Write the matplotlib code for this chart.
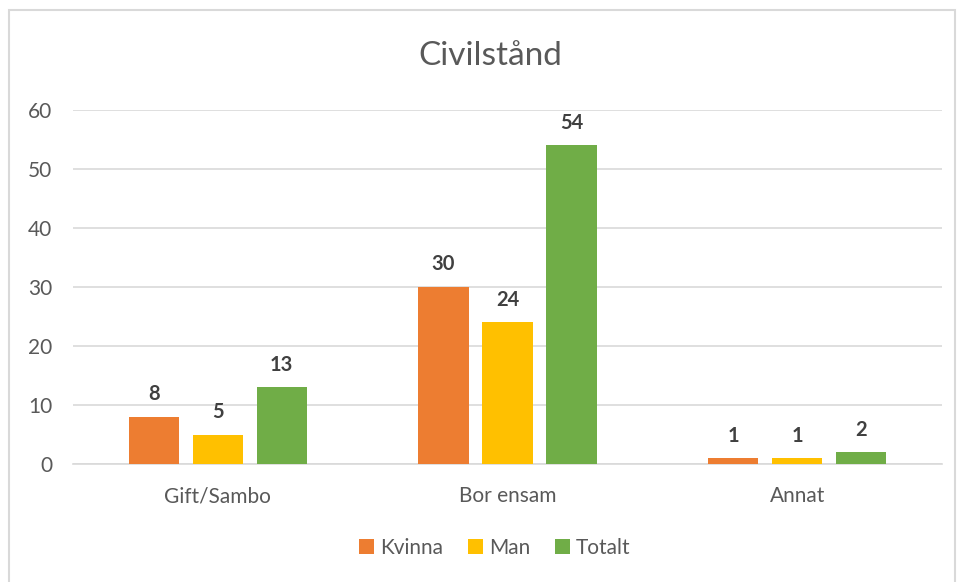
import numpy as np
import matplotlib.pyplot as plt
from matplotlib.patches import Rectangle

plt.rcParams['font.family'] = ['Lato', 'DejaVu Sans']

# Data
categories = ['Gift/Sambo', 'Bor ensam', 'Annat']
series_names = ['Kvinna', 'Man', 'Totalt']
kvinna = [8, 30, 1]
man = [5, 24, 1]
totalt = [13, 54, 2]
colors = ['#ED7D31', '#FFC000', '#70AD47']

fig = plt.figure(figsize=(9.6, 5.82), dpi=100)
ax = fig.add_axes([73 / 960, 1 - 464 / 582, 869 / 960, 354 / 582])

# chart border like Excel
fig.patches.append(Rectangle((9 / 960, -0.01), 946 / 960, 1 - 10 / 582 + 0.01,
                             transform=fig.transFigure, fill=False,
                             edgecolor='#D9D9D9', linewidth=1.5))

x = np.arange(len(categories))
width = 0.173
step = 0.221
for i, (vals, name, col) in enumerate(zip([kvinna, man, totalt], series_names, colors)):
    bars = ax.bar(x + (i - 1) * step, vals, width, color=col, label=name, zorder=3)
    for b, v in zip(bars, vals):
        ax.annotate(str(v), (b.get_x() + b.get_width() / 2, v),
                    xytext=(0, 9), textcoords='offset points',
                    ha='center', va='bottom', fontsize=14.5, fontweight='bold',
                    color='#404040')

ax.set_xlim(-0.5, 2.5)
ax.set_ylim(0, 60)
ax.set_yticks(range(0, 61, 10))
ax.set_xticks(x)
ax.set_xticklabels(categories)
ax.tick_params(axis='both', length=0, labelsize=15, labelcolor='#595959')
ax.tick_params(axis='x', pad=16)
ax.tick_params(axis='y', pad=15)
ax.grid(axis='y', color='#D9D9D9', linewidth=1.2, zorder=0)
for s in ['top', 'right', 'left']:
    ax.spines[s].set_visible(False)
ax.spines['bottom'].set_color('#D9D9D9')
ax.spines['bottom'].set_linewidth(1.2)

fig.text(490 / 960, 1 - 56 / 582, 'Civilstånd', ha='center', va='center',
         fontsize=24, color='#595959')

fig.legend(loc='center', bbox_to_anchor=(495 / 960, 1 - 548 / 582), ncol=3,
           frameon=False, fontsize=15, labelcolor='#595959',
           handlelength=0.7, handleheight=0.7, handletextpad=0.3, columnspacing=1.2)

fig.savefig('out.png', dpi=100)
